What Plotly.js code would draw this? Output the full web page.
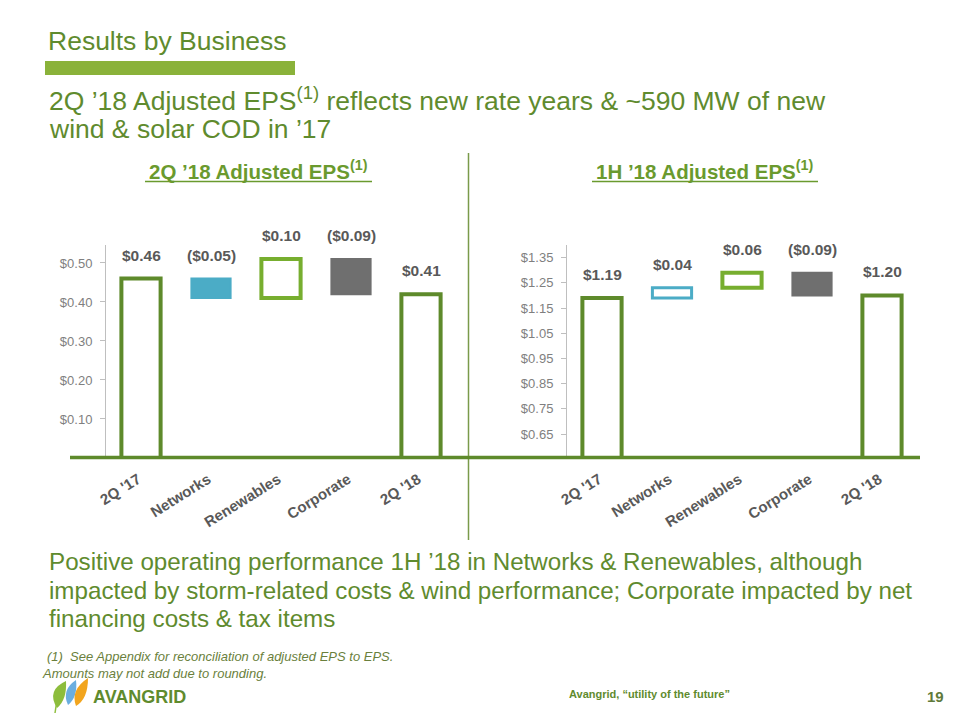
<!DOCTYPE html>
<html>
<head>
<meta charset="utf-8">
<script src="https://cdn.plot.ly/plotly-3.0.1.min.js"></script>
<style>html,body{margin:0;padding:0;background:#fff;}#chart{width:960px;height:720px;}</style>
</head>
<body>
<div id="chart"></div>
<script>
// ---- data ----
const categories = ["2Q '17", "Networks", "Renewables", "Corporate", "2Q '18"];
const kinds = ["total", "delta", "delta", "delta", "total"];
const q2Values = [0.46, -0.05, 0.10, -0.09, 0.42];
const q2Labels = ["$0.46", "($0.05)", "$0.10", "($0.09)", "$0.41"];
const h1Values = [1.19, 0.04, 0.06, -0.09, 1.20];
const h1Labels = ["$1.19", "$0.04", "$0.06", "($0.09)", "$1.20"];
const q2TickVals = [0.10, 0.20, 0.30, 0.40, 0.50];
const h1TickVals = [0.65, 0.75, 0.85, 0.95, 1.05, 1.15, 1.25, 1.35];

// ---- styles ----
const DK = '#5e8a2b', LG = '#77ae2f', TEAL = '#4bacc6', GRAY = '#6f6f6f';
const TXT = '#595959', TICK = '#7f7f7f', HEAD = '#5f8b2e';
const FONT = 'Liberation Sans, Arial, sans-serif';

function waterfall(values, axisMin) {
  const base = [], height = [], tops = [];
  let run = 0;
  values.forEach((v, i) => {
    if (kinds[i] === 'total') {
      base.push(axisMin); height.push(v - axisMin); tops.push(v); run = v;
    } else {
      const lo = Math.min(run, run + v), hi = Math.max(run, run + v);
      base.push(lo); height.push(hi - lo); tops.push(hi); run += v;
    }
  });
  return {base, height, tops};
}

const q2 = waterfall(q2Values, 0);
const h1 = waterfall(h1Values, 0);

const traces = [
  {
    type: 'bar', x: categories, y: q2.height, base: q2.base, xaxis: 'x', yaxis: 'y',
    width: 0.56, hoverinfo: 'skip',
    marker: {
      color: ['#ffffff', TEAL, '#ffffff', GRAY, '#ffffff'],
      line: {color: [DK, TEAL, LG, GRAY, DK], width: [4, 2, 4, 2, 4]}
    }
  },
  {
    type: 'bar', x: categories, y: h1.height, base: h1.base, xaxis: 'x2', yaxis: 'y2',
    width: 0.56, hoverinfo: 'skip',
    marker: {
      color: ['#ffffff', '#ffffff', '#ffffff', GRAY, '#ffffff'],
      line: {color: [DK, TEAL, LG, GRAY, DK], width: [4, 3, 4, 2, 4]}
    }
  }
];

const px = x => x / 960, py = y => 1 - y / 720;
const yDom = [py(458), py(245)];

const annotations = [];
function valueLabels(tops, labels, xr, yr) {
  tops.forEach((t, i) => annotations.push({
    xref: xr, yref: yr, x: categories[i], y: t, text: '<b>' + labels[i] + '</b>',
    showarrow: false, yanchor: 'bottom', yshift: 13,
    font: {family: FONT, size: 15.5, color: TXT}
  }));
}
valueLabels(q2.tops, q2Labels, 'x', 'y');
valueLabels(h1.tops, h1Labels, 'x2', 'y2');

function txt(text, x, y, size, color, opts) {
  annotations.push(Object.assign({
    xref: 'paper', yref: 'paper', x: px(x), y: py(y), text: text, showarrow: false,
    xanchor: 'left', yanchor: 'middle', align: 'left',
    font: {family: FONT, size: size, color: color}
  }, opts || {}));
}
txt('2Q ’18 Adjusted EPS<sup>(1)</sup> reflects new rate years &amp; ~590 MW of new', 47, 99, 26.5, HEAD);
txt('wind &amp; solar COD in ’17', 47, 129, 26.5, HEAD);
txt('<b>2Q ’18 Adjusted EPS<sup>(1)</sup></b>', 258, 170, 20.5, '#6a9a2e', {xanchor: 'center'});
txt('<b>1H ’18 Adjusted EPS<sup>(1)</sup></b>', 705, 170, 20.5, '#6a9a2e', {xanchor: 'center'});
txt('Positive operating performance 1H ’18 in Networks &amp; Renewables, although', 47, 561, 24.2, HEAD);
txt('impacted by storm-related costs &amp; wind performance; Corporate impacted by net', 47, 590, 24.2, HEAD);
txt('financing costs &amp; tax items', 47, 618, 24.2, HEAD);
txt('<i>(1)  See Appendix for reconciliation of adjusted EPS to EPS.</i>', 45, 656, 13, '#6a7f3c');
txt('<i>Amounts may not add due to rounding.</i>', 40, 673, 13, '#6a7f3c');
txt('<b>AVANGRID</b>', 91, 697, 18, '#5f8b2e');
txt('<b>Avangrid, “utility of the future”</b>', 567, 694, 11, '#5f8b2e');
txt('<b>19</b>', 946, 696, 15, '#5f7a3a', {xanchor: 'right'});

function leaf(bx, by, cx1, cy1, tx, ty, cx2, cy2) {
  const P = (x, y) => px(x) + ',' + py(y);
  return 'M' + P(bx, by) + ' Q' + P(cx1, cy1) + ' ' + P(tx, ty) + ' Q' + P(cx2, cy2) + ' ' + P(bx, by) + ' Z';
}

const shapes = [
  // header bar
  {type: 'rect', xref: 'paper', yref: 'paper', x0: px(45), x1: px(295), y0: py(75), y1: py(61), fillcolor: '#8ab23a', line: {width: 0}},
  // title underlines
  {type: 'line', xref: 'paper', yref: 'paper', x0: px(145), x1: px(372), y0: py(181.5), y1: py(181.5), line: {color: '#6a9a2e', width: 1.5}},
  {type: 'line', xref: 'paper', yref: 'paper', x0: px(592), x1: px(818), y0: py(181.5), y1: py(181.5), line: {color: '#6a9a2e', width: 1.5}},
  // divider
  {type: 'line', xref: 'paper', yref: 'paper', x0: px(468.5), x1: px(468.5), y0: py(153), y1: py(540), line: {color: '#7a9a4a', width: 1.5}},
  // baseline
  {type: 'line', xref: 'paper', yref: 'paper', x0: px(70), x1: px(920), y0: py(457.5), y1: py(457.5), line: {color: DK, width: 3.5}},
  // logo
  {type: 'line', xref: 'paper', yref: 'paper', x0: px(57), x1: px(55), y0: py(700), y1: py(713), line: {color: '#8fbf3f', width: 1.5}},
  {type: 'path', xref: 'paper', yref: 'paper', path: leaf(57, 708, 46, 690, 66, 681, 67, 700), fillcolor: '#8dbd3c', line: {width: 0}},
  {type: 'path', xref: 'paper', yref: 'paper', path: leaf(68, 705, 61, 690, 76, 680, 78, 697), fillcolor: '#6aaee0', line: {width: 0}},
  {type: 'path', xref: 'paper', yref: 'paper', path: leaf(76, 706, 70, 690, 88, 678, 88, 699), fillcolor: '#f2a51e', line: {width: 0}}
];

const yaxisCommon = {
  domain: yDom, showgrid: false, zeroline: false, showline: true, linecolor: '#bfbfbf', linewidth: 1,
  ticks: 'outside', ticklen: 5, tickcolor: '#bfbfbf', ticklabelstandoff: 5,
  tickfont: {family: FONT, size: 13, color: TICK}, fixedrange: true
};
const xaxisCommon = {
  showgrid: false, zeroline: false, showline: false, ticks: '', tickangle: -32,
  ticklabelstandoff: 9, ticklabelshift: -3,
  tickfont: {family: FONT, size: 15, color: TXT, weight: 700}, fixedrange: true
};
const money = v => '$' + v.toFixed(2);

const layout = {
  width: 960, height: 720, margin: {l: 0, r: 0, t: 0, b: 0},
  paper_bgcolor: '#ffffff', plot_bgcolor: 'rgba(0,0,0,0)', showlegend: false, barmode: 'overlay',
  title: {text: 'Results by Business', x: px(48), xanchor: 'left', xref: 'paper', y: py(41), yanchor: 'middle',
          font: {family: FONT, size: 26.5, color: HEAD}},
  xaxis: Object.assign({}, xaxisCommon, {domain: [px(106), px(456)], anchor: 'y', range: [-0.5, 4.5]}),
  yaxis: Object.assign({}, yaxisCommon, {anchor: 'x', range: [0, 0.546], tickmode: 'array',
          tickvals: q2TickVals, ticktext: q2TickVals.map(money)}),
  xaxis2: Object.assign({}, xaxisCommon, {domain: [px(567), px(917)], anchor: 'y2', range: [-0.5, 4.5]}),
  yaxis2: Object.assign({}, yaxisCommon, {anchor: 'x2', range: [0.555, 1.40], tickmode: 'array',
          tickvals: h1TickVals, ticktext: h1TickVals.map(money)}),
  annotations: annotations, shapes: shapes
};

Plotly.newPlot('chart', traces, layout, {displayModeBar: false, staticPlot: true});
</script>
</body>
</html>
